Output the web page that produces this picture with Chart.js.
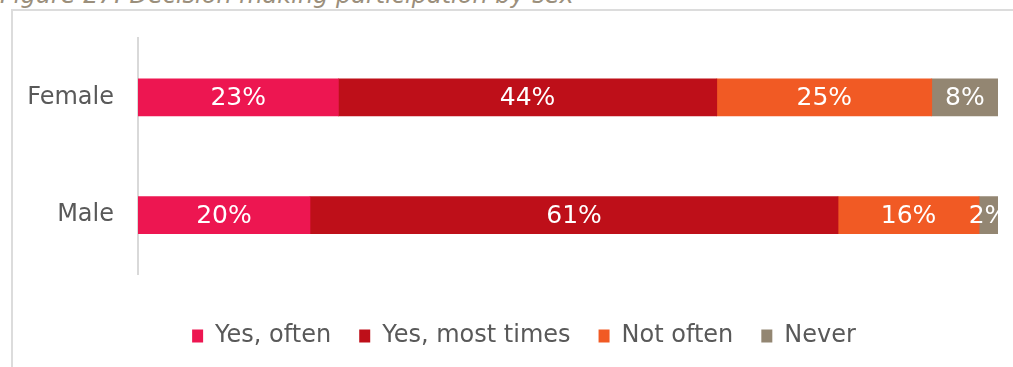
<!DOCTYPE html>
<html lang="en">
<head>
    <meta charset="UTF-8">
    <title>Decision making participation by sex</title>
    <style>
        html, body {
            margin: 0;
            padding: 0;
            background: #fff;
            width: 1013px;
            height: 367px;
            overflow: hidden;
            font-family: 'DejaVu Sans', Verdana, sans-serif;
        }
        .fig-title {
            position: absolute;
            left: 0;
            top: -17px;
            font-size: 24px;
            line-height: 24px;
            font-style: italic;
            color: #9b8f7c;
            white-space: nowrap;
        }
        .frame {
            position: absolute;
            left: 11px;
            top: 9px;
            width: 1100px;
            height: 400px;
            border-left: 2px solid #dcdcdc;
            border-top: 2px solid #dcdcdc;
        }
        .wrap {
            position: absolute;
            left: 0;
            top: 0;
            width: 1013px;
            height: 367px;
        }
    </style>
</head>
<body>
<div class="fig-title">Figure 27: Decision making participation by sex</div>
<div class="frame"></div>
<div class="wrap"><canvas id="chart" width="1013" height="367"></canvas></div>

<script src="https://cdn.jsdelivr.net/npm/chart.js@4.4.0/dist/chart.umd.min.js"></script>
<script>
// data (percent of respondents)
const groups = ["Female", "Male"];
const seriesNames = ["Yes, often", "Yes, most times", "Not often", "Never"];
const yesOften = [23.3, 20.0];
const yesMostTimes = [44.0, 61.4];
const notOften = [25.0, 16.4];
const never = [7.7, 2.2];
const colours = ["#ed1651", "#be0f19", "#f15a24", "#938672"];

const allSeries = [yesOften, yesMostTimes, notOften, never];
const FONT = "'DejaVu Sans', Verdana, sans-serif";

// writes the rounded % in the middle of each segment
const barLabels = {
    id: "barLabels",
    afterDatasetsDraw(chart) {
        const ctx = chart.ctx;
        const area = chart.chartArea;
        ctx.save();
        ctx.beginPath();
        ctx.rect(area.left, area.top, area.right - area.left, area.bottom - area.top);
        ctx.clip();
        ctx.fillStyle = "#fff";
        ctx.font = "25px " + FONT;
        ctx.textAlign = "center";
        ctx.textBaseline = "middle";
        chart.data.datasets.forEach((ds, i) => {
            chart.getDatasetMeta(i).data.forEach((bar, j) => {
                const cx = (bar.x + bar.base) / 2;
                ctx.fillText(Math.round(ds.data[j]) + "%", cx, bar.y + 1);
            });
        });
        ctx.restore();
    }
};

// the legend in the original sits a bit right of the canvas centre
const nudgeLegend = {
    id: "nudgeLegend",
    afterLayout(chart) {
        chart.legend.left += 25;
        chart.legend.right += 25;
    }
};

new Chart(document.getElementById("chart"), {
    type: "bar",
    data: {
        labels: groups,
        datasets: seriesNames.map((name, i) => ({
            label: name,
            data: allSeries[i],
            backgroundColor: colours[i],
            borderWidth: 0,
            barThickness: 37
        }))
    },
    options: {
        indexAxis: "y",
        responsive: false,
        animation: false,
        layout: {
            padding: { left: 0, right: 15, top: 38, bottom: 9 }
        },
        scales: {
            x: {
                stacked: true,
                display: true,
                min: 0,
                max: 100,
                afterFit: s => { s.height = 22; },
                grid: { display: false, drawTicks: false },
                border: { display: false },
                ticks: { display: false }
            },
            y: {
                stacked: true,
                afterFit: s => { s.width = 138; },
                grid: { display: false, drawTicks: false },
                border: { display: true, color: "#d9d9d9", width: 2 },
                ticks: {
                    padding: 24,
                    color: "#595959",
                    font: { family: FONT, size: 24 }
                }
            }
        },
        plugins: {
            tooltip: { enabled: false },
            legend: {
                position: "bottom",
                labels: {
                    boxWidth: 11,
                    boxHeight: 13,
                    padding: 28,
                    color: "#595959",
                    font: { family: FONT, size: 24 }
                }
            }
        }
    },
    plugins: [barLabels, nudgeLegend]
});
</script>
</body>
</html>
